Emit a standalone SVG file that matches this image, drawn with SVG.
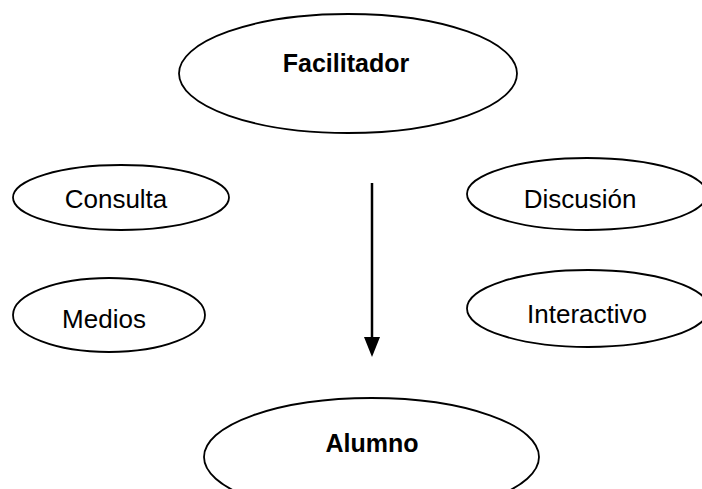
<svg xmlns="http://www.w3.org/2000/svg" width="702" height="489" viewBox="0 0 702 489">
<defs>
<style>
.n{fill:#fff;stroke:#000;stroke-width:1.8}
.t{font-family:"Liberation Sans",Arial,sans-serif;font-size:26px;fill:#000;text-anchor:middle}
.b{font-weight:bold;font-size:25px}
.c{stroke:#000;stroke-width:2.5;fill:none}
</style>
<marker id="ah" markerWidth="8" markerHeight="10" refX="7" refY="3.6" orient="auto" markerUnits="userSpaceOnUse" viewBox="0 0 8 7.2">
<path d="M0,0 L8,3.6 L0,7.2 Z" fill="#000"/>
</marker>
</defs>
<rect width="702" height="489" fill="#fff"/>
<g id="facilitador"><ellipse class="n" cx="348" cy="73.5" rx="169" ry="59.5"/><text class="t b" x="346" y="72">Facilitador</text></g>
<g id="consulta"><ellipse class="n" cx="121" cy="197.5" rx="108" ry="32.5"/><text class="t" x="116" y="208">Consulta</text></g>
<g id="medios"><ellipse class="n" cx="109" cy="315" rx="96" ry="37"/><text class="t" x="104" y="328">Medios</text></g>
<g id="discusion"><ellipse class="n" cx="587" cy="194" rx="120" ry="36"/><text class="t" x="580" y="208">Discusión</text></g>
<g id="interactivo"><ellipse class="n" cx="588" cy="308.5" rx="121" ry="38.5"/><text class="t" x="587" y="323">Interactivo</text></g>
<g id="alumno"><ellipse class="n" cx="371.5" cy="457" rx="167.5" ry="59"/><text class="t b" x="372" y="452">Alumno</text></g>
<g id="connectors">
<line class="c" x1="372" y1="183" x2="372" y2="340"/>
<path d="M364,337 L380,337 L372,357 Z" fill="#000"/>
</g>
</svg>
